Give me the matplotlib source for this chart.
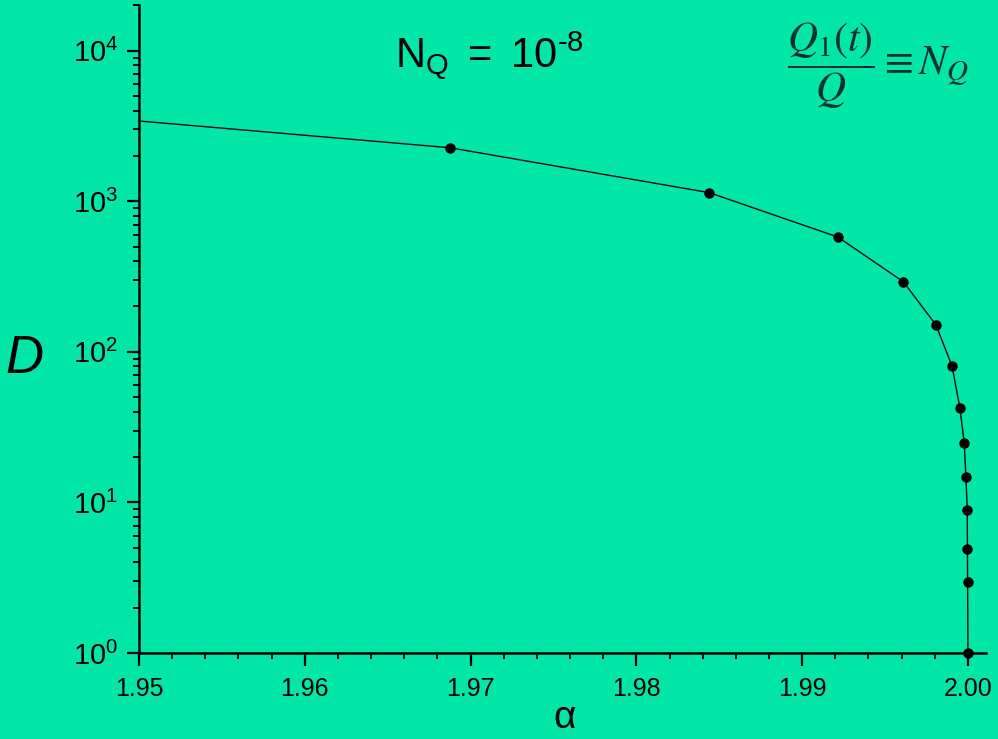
import matplotlib
matplotlib.use("Agg")
import matplotlib.pyplot as plt
from matplotlib.ticker import FixedLocator, MultipleLocator, LogLocator, NullFormatter

# Data
alpha = [1.95, 1.96876, 1.98440, 1.99216, 1.99610, 1.99807, 1.99904, 1.99952,
         1.99978, 1.99988, 1.99996, 1.99997, 1.99998, 2.00000]
D = [3410, 2265, 1140, 578, 292, 151, 80.5, 42.2, 24.7, 14.7, 8.9, 4.9, 2.95, 1.0]

x_ticks = [1.95, 1.96, 1.97, 1.98, 1.99, 2.00]
x_ticklabels = ["1.95", "1.96", "1.97", "1.98", "1.99", "2.00"]
y_ticks = [1, 10, 100, 1000, 10000]
y_ticklabels = [r"$\mathregular{10^{0}}$", r"$\mathregular{10^{1}}$", r"$\mathregular{10^{2}}$",
                r"$\mathregular{10^{3}}$", r"$\mathregular{10^{4}}$"]

BG = "#02E6A8"

plt.rcParams["font.family"] = ["Liberation Sans", "DejaVu Sans"]
plt.rcParams["mathtext.fontset"] = "custom"
plt.rcParams["mathtext.rm"] = "Liberation Sans"
plt.rcParams["mathtext.it"] = "Liberation Sans:italic"

fig = plt.figure(figsize=(9.98, 7.39), dpi=100, facecolor=BG)
ax = fig.add_axes([139/998, 1-653/739, (986-139)/998, (653-5)/739])
ax.set_facecolor(BG)

ax.plot(alpha, D, color="#0a0a0a", lw=1.0, zorder=3)
ax.plot(alpha[1:], D[1:], ls="none", marker="o", ms=6.5, color="black", zorder=4, clip_on=False)

ax.set_yscale("log")
ax.set_xlim(1.95, 2.00109)
ax.set_ylim(1, 20090)

for s in ["top", "right"]:
    ax.spines[s].set_visible(False)
for s in ["left", "bottom"]:
    ax.spines[s].set_linewidth(1.8)

ax.xaxis.set_major_locator(FixedLocator(x_ticks))
ax.set_xticklabels(x_ticklabels, fontsize=18)
ax.xaxis.set_minor_locator(MultipleLocator(0.002))
ax.yaxis.set_major_locator(FixedLocator(y_ticks))
ax.set_yticklabels(y_ticklabels, fontsize=21)
ax.yaxis.set_minor_locator(LogLocator(base=10, subs=range(2, 10)))
ax.yaxis.set_minor_formatter(NullFormatter())

ax.tick_params(which="major", direction="out", length=9, width=1.6, pad=6, colors="black")
ax.tick_params(which="minor", direction="out", length=4.5, width=1.4, colors="black")
ax.tick_params(axis="x", which="major", pad=8)

ax.set_xlabel("α", fontsize=28, labelpad=0)
ax.set_ylabel("D", fontsize=38, style="italic", rotation=0, labelpad=0)
ax.yaxis.label.set_va("center")
ax.xaxis.label.set_va("center")
ax.yaxis.set_label_coords(-0.135, 0.454)
ax.xaxis.set_label_coords(0.503, -0.100)

fig.text(395/998, 1-67/739, "$\\mathregular{N_Q\\ =\\ 10^{\u20108}}$", fontsize=30, ha="left", va="baseline")

fig.text(878/998, 1-66/739, r"$\dfrac{Q_1\left(t\right)}{Q}\equiv N_Q$",
         fontsize=30, ha="center", va="center", color="#10302a",
         math_fontfamily="stix")

fig.savefig("out.png", dpi=100, facecolor=BG)
